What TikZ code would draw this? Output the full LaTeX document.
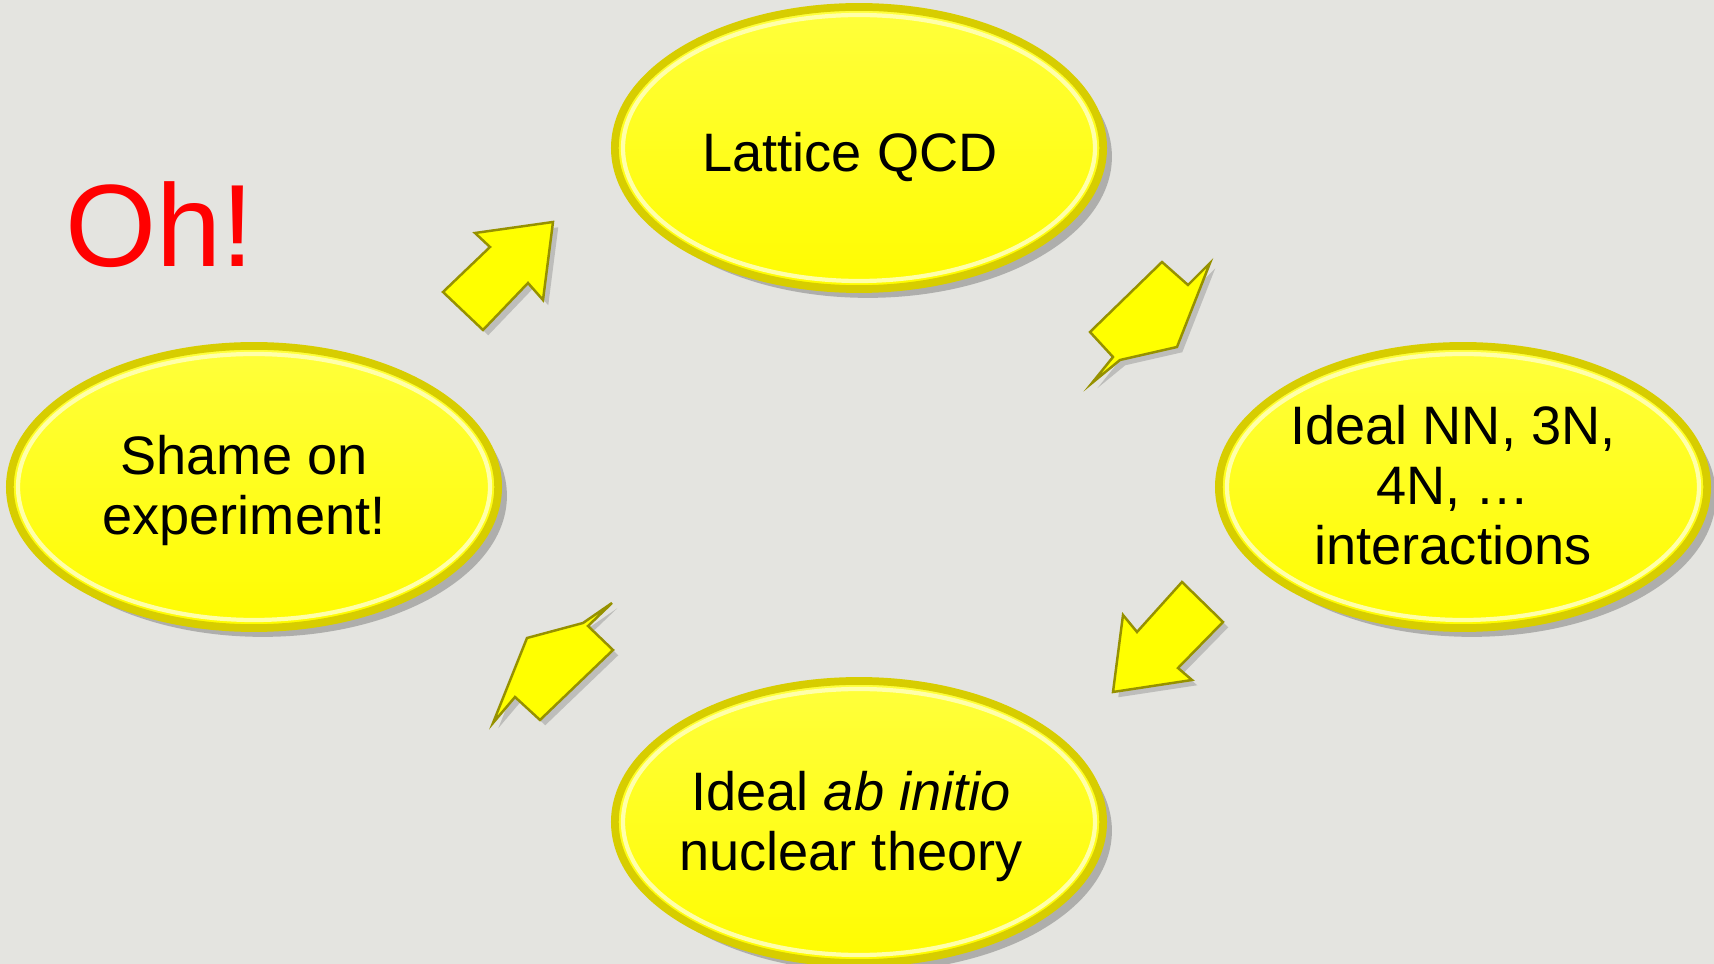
\documentclass[tikz,border=0pt]{standalone}
\usepackage{fontspec}
\setmainfont{Liberation Sans}
\usetikzlibrary{shapes.geometric,shadows}
\definecolor{bgcol}{RGB}{228,228,224}
\definecolor{bubblefill}{RGB}{255,252,0}
\definecolor{bubbletop}{RGB}{255,255,60}
\definecolor{rimdark}{RGB}{215,205,0}
\definecolor{rimlight}{RGB}{255,255,170}
\definecolor{arrowfill}{RGB}{255,255,0}
\definecolor{arrowedge}{RGB}{150,145,0}
\definecolor{ohred}{RGB}{255,0,0}
\tikzset{
  bubble/.style={ellipse, minimum width=4.88cm, minimum height=2.82cm, inner sep=0pt,
    top color=bubbletop, bottom color=bubblefill, draw=rimdark, line width=2.2pt,
    drop shadow={shadow xshift=2.5pt, shadow yshift=-2.5pt, opacity=0.35, fill=black!70}},
  rimhi/.style={draw=rimlight, line width=1.2pt},
  bubbletext/.style={align=center, font=\fontsize{15.4pt}{17.1pt}\selectfont, text=black, inner sep=0pt, anchor=base},
  blockarrow/.style={fill=arrowfill, draw=arrowedge, line width=0.7pt, line join=miter,
    drop shadow={shadow xshift=1.5pt, shadow yshift=-1.5pt, opacity=0.3, fill=black!60}},
}
\begin{document}
\begin{tikzpicture}[x=0.01cm, y=-0.01cm]
\fill[bgcol] (0,0) rectangle (1714,964);
\useasboundingbox (0,0) rectangle (1714,964);

% ellipses
\node[bubble] (lqcd) at (859,148) {};
\node[bubble] (shame) at (254,487) {};
\node[bubble] (ideal) at (1463,487) {};
\node[bubble] (abin) at (859,822) {};
\foreach \n in {lqcd,shame,ideal,abin}
  \draw[rimhi] (\n.center) ellipse [x radius=236, y radius=133];

% texts (base anchor = baseline of last line)
\node[bubbletext] (tlqcd) at (850,172) {Lattice QCD};
\node[bubbletext] (tshame) at (244,535) {Shame on\\experiment!};
\node[bubbletext] (tideal) at (1453,565) {Ideal NN, 3N,\\4N, \dots\\interactions};
\node[bubbletext] (tabin) at (851,871) {Ideal \textit{ab initio}\\nuclear theory};

\node[font=\fontsize{33.3pt}{36pt}\selectfont, text=ohred, inner sep=0pt, anchor=base] (oh) at (160,267) {Oh!};

% block arrows
\draw[blockarrow] (553,222) -- (475,233) -- (490,247) -- (443,292) -- (483,330) -- (528,283) -- (543,300) -- cycle;
\draw[blockarrow] (1162,262) -- (1188,285) -- (1210,263) -- (1177,347) -- (1120,360) -- (1092,383) -- (1113,357) -- (1090,332) -- cycle;
\draw[blockarrow] (1113,692) -- (1123,615) -- (1137,632) -- (1182,582) -- (1223,622) -- (1178,668) -- (1192,680) -- cycle;
\draw[blockarrow] (527,638) -- (583,623) -- (612,603) -- (588,626) -- (613,650) -- (540,720) -- (515,697) -- (493,723) -- cycle;
\end{tikzpicture}
\end{document}
